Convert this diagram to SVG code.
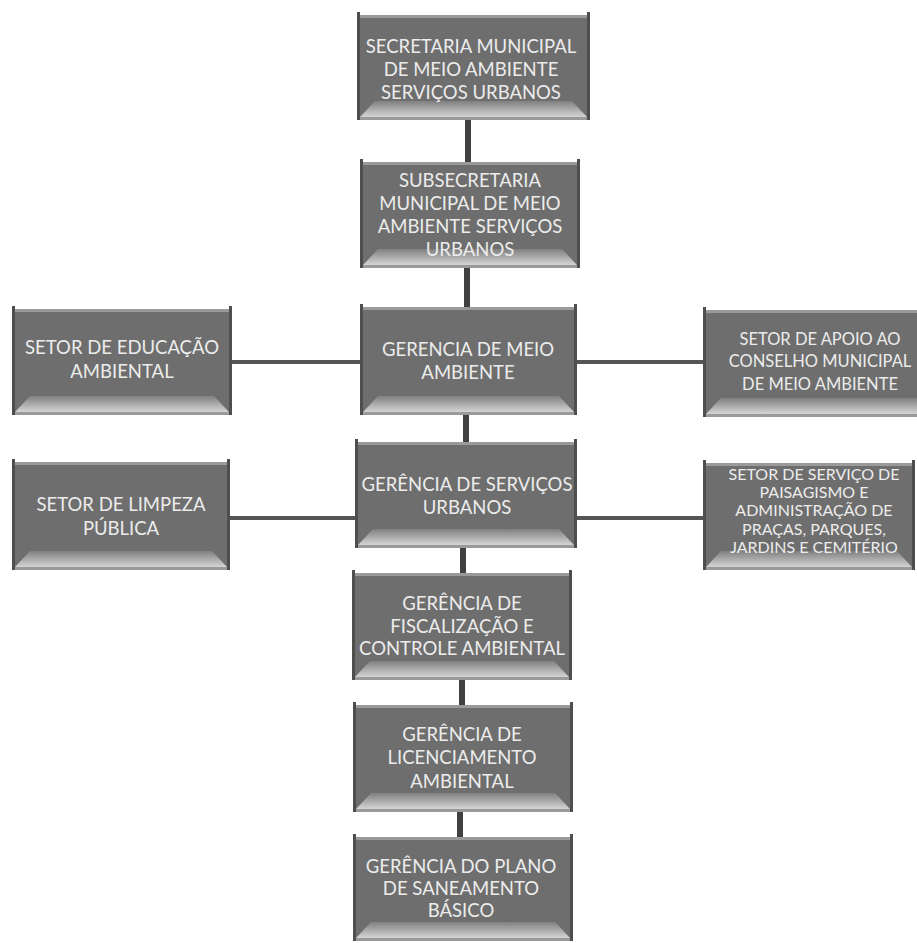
<svg xmlns="http://www.w3.org/2000/svg" width="917" height="943" viewBox="0 0 917 943">
<defs>
<linearGradient id="bev" x1="0" y1="0" x2="0" y2="1">
<stop offset="0" stop-color="#808080"/>
<stop offset="1" stop-color="#d4d4d4"/>
</linearGradient>
<style>
.outer{fill:#9a9a9a}
.inner{fill:#6e6e6e}
.bev{fill:url(#bev)}
.side{fill:#4e4e4e}
.t{font-family:Lato,"Open Sans","Liberation Sans",sans-serif;font-size:18.5px;fill:#ececec;text-anchor:middle}
.m{font-size:16.5px}
.s{font-size:16px}
.v{stroke:#404040;stroke-width:6;fill:none}
.h{stroke:#555;stroke-width:4;fill:none}
</style>
</defs>
<rect width="917" height="943" fill="#ffffff"/>
<g id="connectors">
<line class="v" x1="468" y1="120" x2="468" y2="162"/>
<line class="v" x1="467" y1="268" x2="467" y2="307"/>
<line class="v" x1="466" y1="415" x2="466" y2="442"/>
<line class="v" x1="463" y1="548" x2="463" y2="573"/>
<line class="v" x1="462" y1="680" x2="462" y2="705"/>
<line class="v" x1="460" y1="812" x2="460" y2="837"/>
<line class="h" x1="232" y1="362" x2="360" y2="362"/>
<line class="h" x1="577" y1="362" x2="704" y2="362"/>
<line class="h" x1="230" y1="518" x2="355" y2="518"/>
<line class="h" x1="575" y1="518" x2="704" y2="518"/>
</g>
<g id="n1">
<rect class="outer" x="357" y="15" width="233" height="105"/>
<rect class="inner" x="360" y="18" width="227" height="99"/>
<polygon class="bev" points="360,117 587,117 572,101 375,101"/>
<rect class="side" x="357" y="12" width="3" height="108"/>
<rect class="side" x="587" y="12" width="3" height="108"/>
<text class="t" x="471" y="53">SECRETARIA MUNICIPAL</text>
<text class="t" x="471" y="76">DE MEIO AMBIENTE</text>
<text class="t" x="471" y="99">SERVIÇOS URBANOS</text>
</g>
<g id="n2">
<rect class="outer" x="360" y="162" width="220" height="106"/>
<rect class="inner" x="363" y="165" width="214" height="100"/>
<polygon class="bev" points="363,265 577,265 562,249 378,249"/>
<rect class="side" x="360" y="159" width="3" height="109"/>
<rect class="side" x="577" y="159" width="3" height="109"/>
<text class="t" x="470" y="187">SUBSECRETARIA</text>
<text class="t" x="470" y="210">MUNICIPAL DE MEIO</text>
<text class="t" x="470" y="233">AMBIENTE SERVIÇOS</text>
<text class="t" x="470" y="256">URBANOS</text>
</g>
<g id="n3">
<rect class="outer" x="360" y="307" width="217" height="108"/>
<rect class="inner" x="363" y="310" width="211" height="102"/>
<polygon class="bev" points="363,412 574,412 559,396 378,396"/>
<rect class="side" x="360" y="304" width="3" height="111"/>
<rect class="side" x="574" y="304" width="3" height="111"/>
<text class="t" x="468" y="356">GERENCIA DE MEIO</text>
<text class="t" x="468" y="379">AMBIENTE</text>
</g>
<g id="n4">
<rect class="outer" x="355" y="442" width="222" height="106"/>
<rect class="inner" x="358" y="445" width="216" height="100"/>
<polygon class="bev" points="358,545 574,545 559,529 373,529"/>
<rect class="side" x="355" y="439" width="3" height="109"/>
<rect class="side" x="574" y="439" width="3" height="109"/>
<text class="t" x="467" y="491">GERÊNCIA DE SERVIÇOS</text>
<text class="t" x="467" y="514">URBANOS</text>
</g>
<g id="n5">
<rect class="outer" x="352" y="573" width="220" height="107"/>
<rect class="inner" x="355" y="576" width="214" height="101"/>
<polygon class="bev" points="355,677 569,677 554,661 370,661"/>
<rect class="side" x="352" y="570" width="3" height="110"/>
<rect class="side" x="569" y="570" width="3" height="110"/>
<text class="t" x="462" y="610">GERÊNCIA DE</text>
<text class="t" x="462" y="633">FISCALIZAÇÃO E</text>
<text class="t" x="462" y="655">CONTROLE AMBIENTAL</text>
</g>
<g id="n6">
<rect class="outer" x="353" y="705" width="220" height="107"/>
<rect class="inner" x="356" y="708" width="214" height="101"/>
<polygon class="bev" points="356,809 570,809 555,793 371,793"/>
<rect class="side" x="353" y="702" width="3" height="110"/>
<rect class="side" x="570" y="702" width="3" height="110"/>
<text class="t" x="462" y="741">GERÊNCIA DE</text>
<text class="t" x="462" y="764">LICENCIAMENTO</text>
<text class="t" x="462" y="788">AMBIENTAL</text>
</g>
<g id="n7">
<rect class="outer" x="353" y="837" width="220" height="104"/>
<rect class="inner" x="356" y="840" width="214" height="98"/>
<polygon class="bev" points="356,938 570,938 555,922 371,922"/>
<rect class="side" x="353" y="834" width="3" height="107"/>
<rect class="side" x="570" y="834" width="3" height="107"/>
<text class="t" x="461" y="873">GERÊNCIA DO PLANO</text>
<text class="t" x="461" y="895">DE SANEAMENTO</text>
<text class="t" x="461" y="917">BÁSICO</text>
</g>
<g id="l1">
<rect class="outer" x="12" y="309" width="220" height="106"/>
<rect class="inner" x="15" y="312" width="214" height="100"/>
<polygon class="bev" points="15,412 229,412 214,396 30,396"/>
<rect class="side" x="12" y="306" width="3" height="109"/>
<rect class="side" x="229" y="306" width="3" height="109"/>
<text class="t" x="122" y="354">SETOR DE EDUCAÇÃO</text>
<text class="t" x="122" y="378">AMBIENTAL</text>
</g>
<g id="l2">
<rect class="outer" x="12" y="462" width="218" height="108"/>
<rect class="inner" x="15" y="465" width="212" height="102"/>
<polygon class="bev" points="15,567 227,567 212,551 30,551"/>
<rect class="side" x="12" y="459" width="3" height="111"/>
<rect class="side" x="227" y="459" width="3" height="111"/>
<text class="t" x="121" y="511">SETOR DE LIMPEZA</text>
<text class="t" x="121" y="535">PÚBLICA</text>
</g>
<g id="r1">
<rect class="outer" x="703" y="310" width="214" height="107"/>
<rect class="inner" x="706" y="313" width="211" height="101"/>
<polygon class="bev" points="706,414 917,414 917,398 721,398"/>
<rect class="side" x="703" y="307" width="3" height="110"/>
<text class="t m" x="820" y="345">SETOR DE APOIO AO</text>
<text class="t m" x="820" y="367">CONSELHO MUNICIPAL</text>
<text class="t m" x="820" y="390">DE MEIO AMBIENTE</text>
</g>
<g id="r2">
<rect class="outer" x="703" y="463" width="212" height="107"/>
<rect class="inner" x="706" y="466" width="206" height="101"/>
<polygon class="bev" points="706,567 912,567 897,551 721,551"/>
<rect class="side" x="703" y="460" width="3" height="110"/>
<rect class="side" x="912" y="460" width="3" height="110"/>
<text class="t s" x="814" y="480">SETOR DE SERVIÇO DE</text>
<text class="t s" x="814" y="498">PAISAGISMO E</text>
<text class="t s" x="814" y="516">ADMINISTRAÇÃO DE</text>
<text class="t s" x="814" y="535">PRAÇAS, PARQUES,</text>
<text class="t s" x="814" y="553">JARDINS E CEMITÉRIO</text>
</g>
</svg>
